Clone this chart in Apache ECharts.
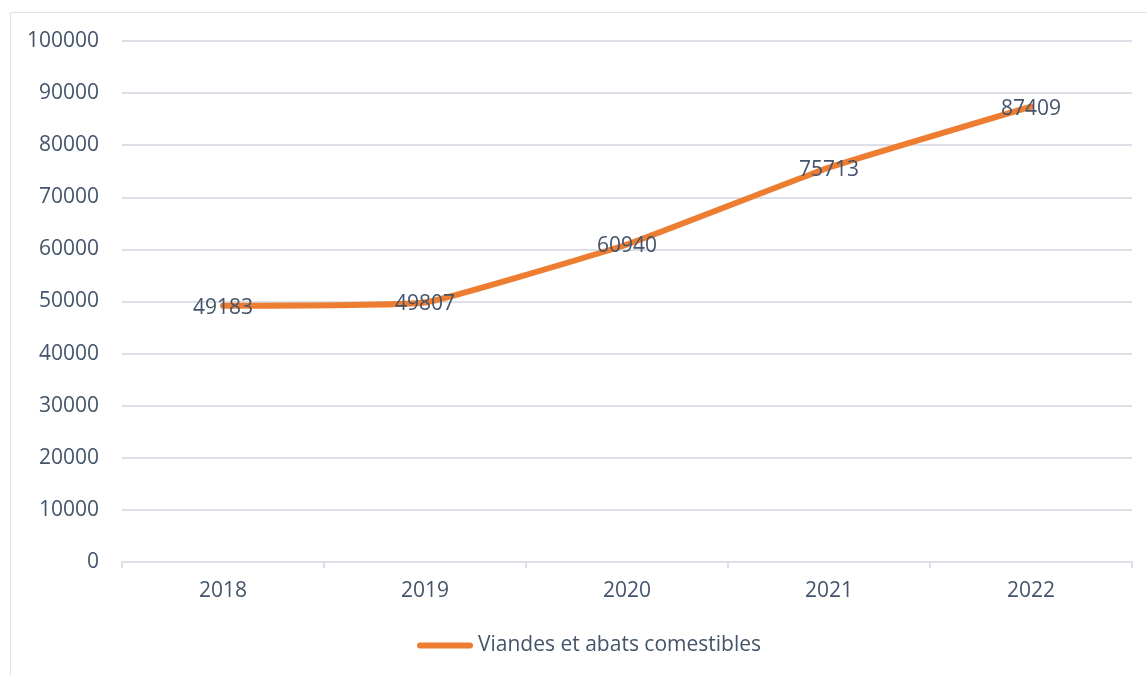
<!DOCTYPE html>
<html>
<head>
<meta charset="utf-8">
<script src="https://cdn.jsdelivr.net/npm/echarts@6/dist/echarts.min.js"></script>
<style>
  html, body { margin: 0; padding: 0; background: #fff; }
  #main { width: 1147px; height: 675px; }
</style>
</head>
<body>
<div id="main"></div>
<script>
// données
const years = ['2018', '2019', '2020', '2021', '2022']
const viandes = [49183, 49807, 60940, 75713, 87409]
const seriesName = 'Viandes et abats comestibles'

const textColor = '#44546a'
const lineColor = '#ed7d31'
const gridColor = '#dde1e7'
const fontFamily = '"Open Sans", "Noto Sans", sans-serif'

const chart = echarts.init(document.getElementById('main'))

const option = {
  backgroundColor: '#ffffff',
  animation: false,
  textStyle: { fontFamily: fontFamily },
  graphic: [{
    type: 'rect',
    shape: { x: 10.5, y: 12.5, width: 1300, height: 800 },
    style: { fill: 'none', stroke: '#dfe3e8', lineWidth: 1 },
    silent: true,
    z: -10
  }],
  grid: {
    left: 122,
    right: 15,
    top: 41,
    bottom: 113
  },
  legend: {
    bottom: 14,
    left: 412,
    itemWidth: 56,
    itemHeight: 6,
    itemGap: 4,
    icon: 'path://M3,0 L53,0 A3,3 0 0 1 53,6 L3,6 A3,3 0 0 1 3,0 Z',
    textStyle: { color: textColor, fontSize: 21, fontFamily: fontFamily },
    data: [seriesName]
  },
  xAxis: {
    type: 'category',
    data: years,
    boundaryGap: true,
    axisLine: { lineStyle: { color: gridColor, width: 2 } },
    axisTick: { show: true, length: 6, lineStyle: { color: gridColor, width: 2 } },
    axisLabel: { color: textColor, fontSize: 21, margin: 19 }
  },
  yAxis: {
    type: 'value',
    min: 0,
    max: 100000,
    interval: 10000,
    axisLine: { show: false },
    axisTick: { show: false },
    axisLabel: { color: textColor, fontSize: 21, margin: 23, formatter: v => String(v) },
    splitLine: { lineStyle: { color: gridColor, width: 2 } }
  },
  series: [{
    name: seriesName,
    type: 'line',
    data: viandes,
    smooth: 0.1,
    symbol: 'circle',
    symbolSize: 1,
    showSymbol: true,
    lineStyle: { color: lineColor, width: 6, cap: 'round', join: 'round' },
    itemStyle: { color: lineColor },
    label: {
      show: true,
      position: 'inside',
      offset: [0, 2],
      color: textColor,
      fontSize: 21,
      fontFamily: fontFamily
    }
  }]
}

chart.setOption(option)
</script>
</body>
</html>
